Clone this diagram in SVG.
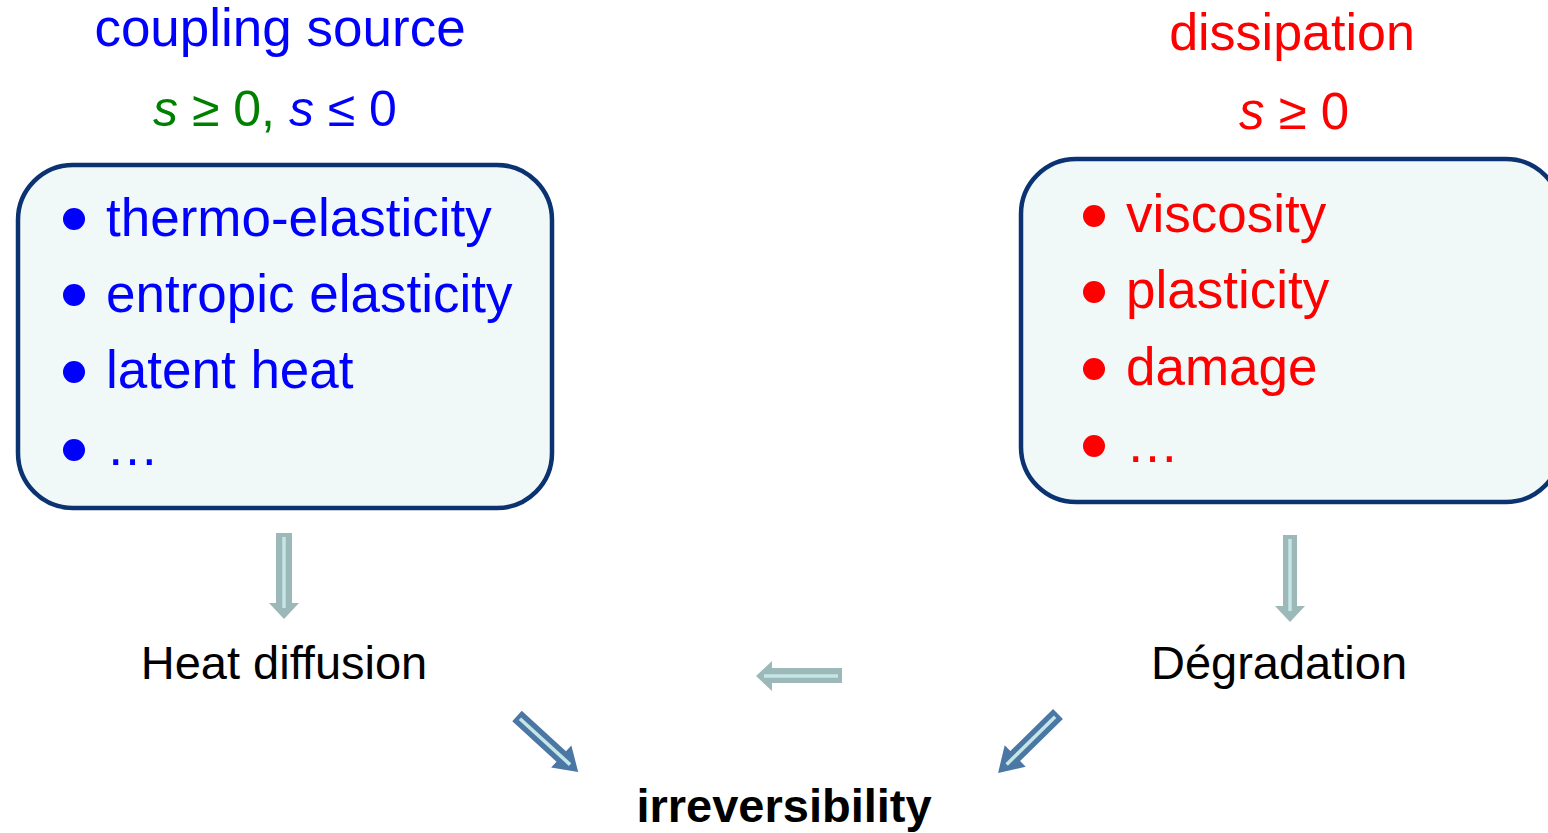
<svg xmlns="http://www.w3.org/2000/svg" width="1548" height="833" viewBox="0 0 1548 833">
<style>
text{font-family:"Liberation Sans",Arial,sans-serif}
.box{fill:#f0f8f8;stroke:#0b3372;stroke-width:4.5}
.blue{fill:#0000ff}
.red{fill:#ff0000}
.green{fill:#008000}
.item{font-size:53px}
.lbl{font-size:47px;fill:#000}
.ga{fill:#9db8b8}
.ba{fill:#4a77a3}
.inner{stroke:#c4e6e6;stroke-width:3.5;fill:none}
</style>
<rect width="1548" height="833" fill="#fff"/>
<g id="coupling-title">
<text x="280" y="46" text-anchor="middle" font-size="53" class="blue">coupling source</text>
<text x="275" y="126" text-anchor="middle" font-size="50"><tspan class="green" font-style="italic">s</tspan><tspan class="green"> ≥ 0,</tspan><tspan class="blue" font-style="italic"> s</tspan><tspan class="blue"> ≤ 0</tspan></text>
</g>
<g id="dissipation-title">
<text x="1292" y="50" text-anchor="middle" font-size="52" class="red">dissipation</text>
<text x="1294" y="129" text-anchor="middle" font-size="51" class="red"><tspan font-style="italic">s</tspan> ≥ 0</text>
</g>
<g id="coupling-box">
<rect class="box" x="18" y="165" width="534" height="343" rx="55"/>
<circle cx="74" cy="219" r="11" class="blue"/>
<circle cx="74" cy="295" r="11" class="blue"/>
<circle cx="74" cy="372" r="11" class="blue"/>
<circle cx="74" cy="450" r="11" class="blue"/>
<text x="106" y="236" class="item blue">thermo-elasticity</text>
<text x="106" y="312" class="item blue">entropic elasticity</text>
<text x="106" y="388" class="item blue">latent heat</text>
<text x="106" y="465" class="item blue">…</text>
</g>
<g id="dissipation-box">
<rect class="box" x="1021" y="159" width="540" height="343" rx="55"/>
<circle cx="1094" cy="216" r="11" class="red"/>
<circle cx="1094" cy="292" r="11" class="red"/>
<circle cx="1094" cy="369" r="11" class="red"/>
<circle cx="1094" cy="446" r="11" class="red"/>
<text x="1126" y="232" class="item red">viscosity</text>
<text x="1126" y="308" class="item red">plasticity</text>
<text x="1126" y="385" class="item red">damage</text>
<text x="1126" y="462" class="item red">…</text>
</g>
<g id="heat-diffusion"><text x="284" y="679" text-anchor="middle" class="lbl">Heat diffusion</text></g>
<g id="degradation"><text x="1279" y="679" text-anchor="middle" class="lbl">Dégradation</text></g>
<g id="irreversibility"><text x="784" y="822" text-anchor="middle" class="lbl" font-weight="bold">irreversibility</text></g>
<g id="connectors">
<g>
<polygon class="ga" points="276,533 292,533 292,603 299,603 284,619 269,603 276,603"/>
<line class="inner" x1="284" y1="537" x2="284" y2="608"/>
</g>
<g>
<polygon class="ga" points="1283,535 1297,535 1297,606 1305,606 1290,622 1275,606 1283,606"/>
<line class="inner" x1="1290" y1="539" x2="1290" y2="611"/>
</g>
<g>
<polygon class="ga" points="842,668 842,683 772,683 772,691 756,676 772,661 772,668"/>
<line class="inner" x1="838" y1="676" x2="764" y2="676"/>
</g>
<g transform="translate(517,716) rotate(42.5)">
<polygon class="ba" points="0,-7 60,-7 60,-15 83,0 60,15 60,7 0,7"/>
<line class="inner" x1="4" y1="0" x2="72" y2="0"/>
</g>
<g transform="translate(1058,714) rotate(135.5)">
<polygon class="ba" points="0,-7 60,-7 60,-15 84,0 60,15 60,7 0,7"/>
<line class="inner" x1="4" y1="0" x2="72" y2="0"/>
</g>
</g>
</svg>
